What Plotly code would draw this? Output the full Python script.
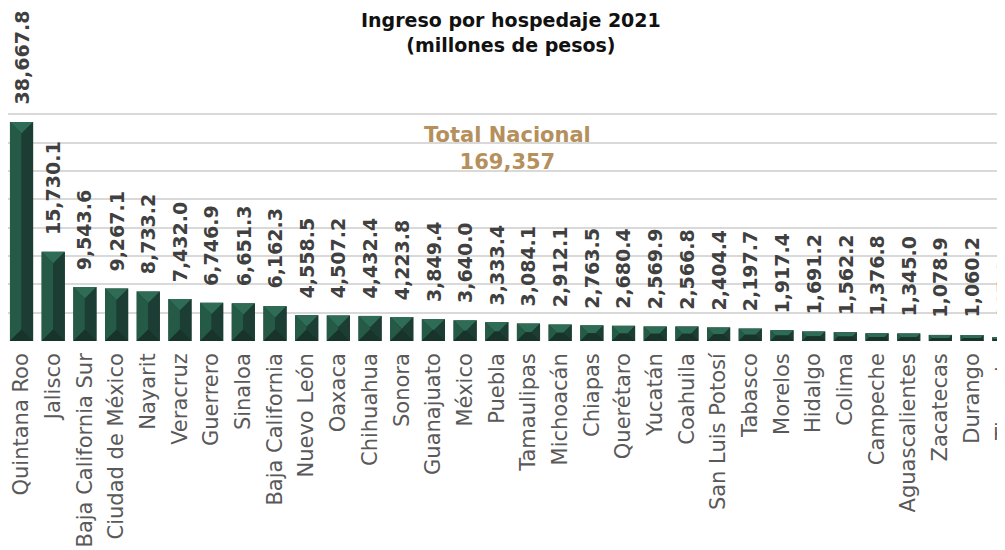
import plotly.graph_objects as go

estados = [
    "Quintana Roo", "Jalisco", "Baja California Sur", "Ciudad de México", "Nayarit",
    "Veracruz", "Guerrero", "Sinaloa", "Baja California", "Nuevo León", "Oaxaca",
    "Chihuahua", "Sonora", "Guanajuato", "México", "Puebla", "Tamaulipas",
    "Michoacán", "Chiapas", "Querétaro", "Yucatán", "Coahuila", "San Luis Potosí",
    "Tabasco", "Morelos", "Hidalgo", "Colima", "Campeche", "Aguascalientes",
    "Zacatecas", "Durango", "Tlaxcala",
]
ingresos = [
    38667.8, 15730.1, 9543.6, 9267.1, 8733.2, 7432.0, 6746.9, 6651.3, 6162.3,
    4558.5, 4507.2, 4432.4, 4223.8, 3849.4, 3640.0, 3333.4, 3084.1, 2912.1,
    2763.5, 2680.4, 2569.9, 2566.8, 2404.4, 2197.7, 1917.4, 1691.2, 1562.2,
    1376.8, 1345.0, 1078.9, 1060.2, 667.0,
]
total_nacional = 169357

# the page body adds 8px on the left and top, so the figure is sized to fill the rest
W, H = 997, 542
M_L, M_R, M_T, M_B = 0, 0, 78, 209
X_RANGE = [-0.427, 31.04]
Y_MAX = 45000
BAR_GAP = 0.27

FONT = "DejaVu Sans"
FACET_COLORS = {
    "top": "#2f6c56",
    "left": "#255a47",
    "right": "#1c3d33",
    "bottom": "#17332a",
}

# pixel scale, used to keep the bevel depth constant in pixels
px_x = (W - M_L - M_R) / (X_RANGE[1] - X_RANGE[0])
px_y = (H - M_T - M_B) / Y_MAX
half_w = (1 - BAR_GAP) / 2

xs = list(range(len(estados)))

facets = {k: ([], []) for k in FACET_COLORS}


def add_poly(name, pts):
    fx, fy = facets[name]
    for px, py in pts:
        fx.append(px)
        fy.append(py)
    fx.append(pts[0][0])
    fy.append(pts[0][1])
    fx.append(None)
    fy.append(None)


for i, v in zip(xs, ingresos):
    w_px = 2 * half_w * px_x
    h_px = v * px_y
    d_px = min(w_px, h_px) / 2
    dx, dy = d_px / px_x, d_px / px_y
    L, R = i - half_w, i + half_w
    iL, iR = L + dx, R - dx
    iB, iT = dy, v - dy
    add_poly("top", [(L, v), (R, v), (iR, iT), (iL, iT)])
    add_poly("left", [(L, v), (iL, iT), (iL, iB), (L, 0)])
    add_poly("right", [(R, v), (iR, iT), (iR, iB), (R, 0)])
    add_poly("bottom", [(L, 0), (R, 0), (iR, iB), (iL, iB)])

fig = go.Figure()
fig.add_trace(
    go.Bar(
        x=xs,
        y=ingresos,
        marker=dict(color=FACET_COLORS["right"], line=dict(width=0)),
        hovertemplate="%{customdata}: %{y:,.1f}<extra></extra>",
        customdata=estados,
    )
)
for name, (fx, fy) in facets.items():
    fig.add_trace(
        go.Scatter(
            x=fx,
            y=fy,
            mode="lines",
            fill="toself",
            fillcolor=FACET_COLORS[name],
            line=dict(width=0, color=FACET_COLORS[name]),
            hoverinfo="skip",
        )
    )

for i, v in zip(xs, ingresos):
    fig.add_annotation(
        x=i,
        y=v,
        text=f"{v:,.1f}",
        textangle=-90,
        showarrow=False,
        xanchor="center",
        yanchor="bottom",
        yshift=15,
        font=dict(family=FONT, size=19, color="#404040", weight="bold"),
    )

fig.add_annotation(
    xref="paper",
    yref="paper",
    x=0.5015,
    y=0.753,
    xanchor="center",
    yanchor="middle",
    text=f"Total Nacional<br>{total_nacional:,}",
    showarrow=False,
    font=dict(family=FONT, size=21, color="#b58f5c", weight="bold"),
)

# title as a paper annotation so the two lines sit where the reference has them
fig.add_annotation(
    xref="paper",
    yref="paper",
    x=0.5045,
    y=1.31,
    xanchor="center",
    yanchor="top",
    text="Ingreso por hospedaje 2021<br>(millones de pesos)",
    showarrow=False,
    font=dict(family=FONT, size=19, color="#111111", weight="bold"),
)

fig.update_layout(
    width=W,
    height=H,
    margin=dict(l=M_L, r=M_R, t=M_T, b=M_B),
    paper_bgcolor="white",
    plot_bgcolor="white",
    showlegend=False,
    bargap=BAR_GAP,
    xaxis=dict(
        range=X_RANGE,
        tickmode="array",
        tickvals=xs,
        ticktext=estados,
        tickangle=-90,
        tickfont=dict(family=FONT, size=21, color="#595959"),
        ticks="",
        ticklabelstandoff=7,
        ticklabeloverflow="allow",
        showgrid=False,
        zeroline=False,
        showline=False,
        automargin=False,
        fixedrange=True,
    ),
    yaxis=dict(
        range=[0, Y_MAX],
        dtick=5000,
        showticklabels=False,
        showgrid=True,
        gridcolor="#d9d9d9",
        gridwidth=1.5,
        zeroline=False,
        showline=False,
        automargin=False,
        fixedrange=True,
    ),
)

fig.write_html("out.html")
